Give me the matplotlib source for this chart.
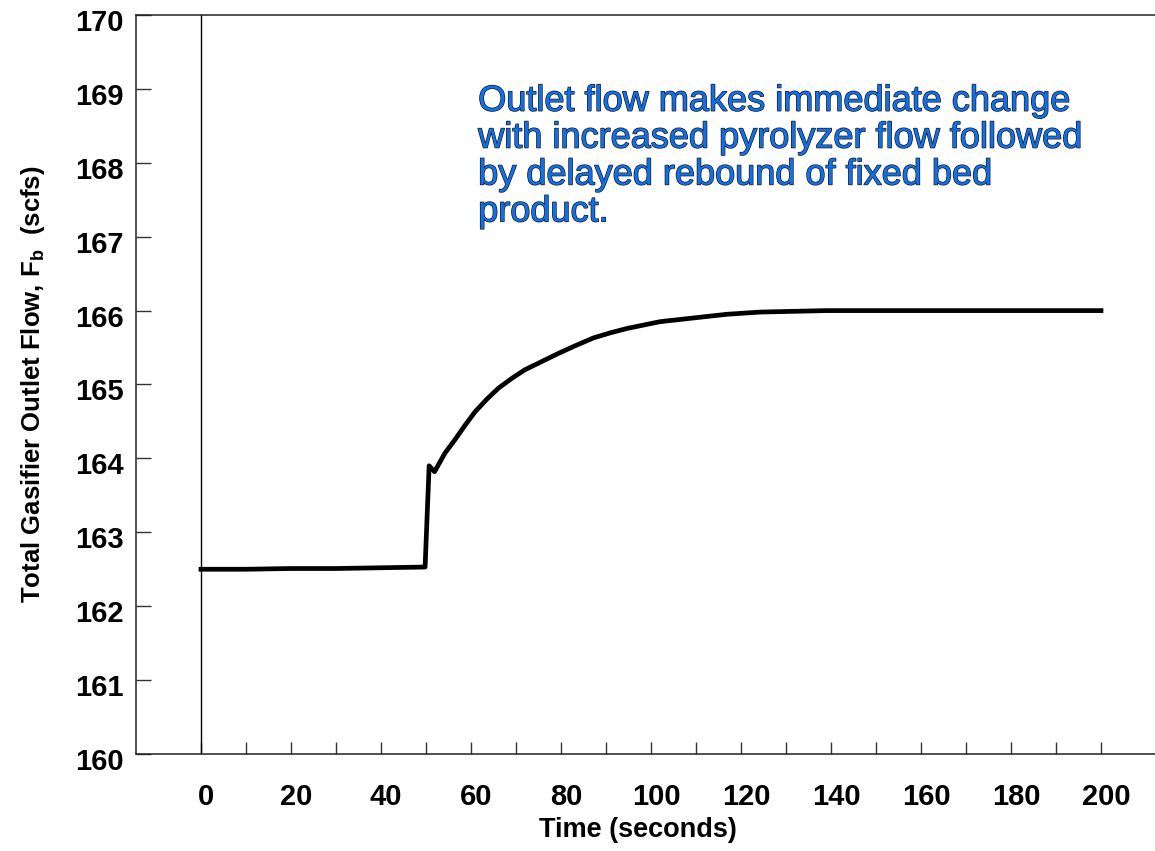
import matplotlib.pyplot as plt
import matplotlib.patheffects as pe
import matplotlib.transforms as mtransforms

plt.rcParams["font.family"] = ["Liberation Sans", "DejaVu Sans"]

# curve
time_s = [0, 10, 20, 30, 40, 49.8, 50.7, 51.9, 54.2, 56.4, 58.7, 60.9, 63.5,
          66.1, 69.0, 72.0, 75.7, 79.4, 83.0, 87.2, 91.0, 94.8, 102.0, 109.4,
          116.8, 124.2, 131.6, 139.0, 150, 175, 200]
flow = [162.50, 162.50, 162.51, 162.51, 162.52, 162.53, 163.90, 163.82, 164.07,
        164.25, 164.45, 164.63, 164.80, 164.95, 165.08, 165.20, 165.31, 165.42,
        165.52, 165.63, 165.70, 165.76, 165.85, 165.90, 165.95, 165.98, 165.99,
        166.00, 166.00, 166.00, 166.00]

x_major = list(range(0, 201, 20))
x_minor = list(range(10, 200, 20))
y_ticks = list(range(160, 171))

note = ("Outlet flow makes immediate change\n"
        "with increased pyrolyzer flow followed\n"
        "by delayed rebound of fixed bed\n"
        "product.")

fig = plt.figure(figsize=(11.55, 8.51), dpi=100)
ax = fig.add_axes([136 / 1155, 1 - 754 / 851, 1 - 136 / 1155, (754 - 15) / 851])

ax.plot(time_s, flow, color="black", lw=3.4, solid_joinstyle="round")
ax.axvline(0, color="black", lw=1.0)

ax.set_xlim(-14.44, 212)
ax.set_ylim(160, 170)

ax.spines["right"].set_visible(False)
for s in ["left", "top", "bottom"]:
    ax.spines[s].set_linewidth(1.1)
    ax.spines[s].set_color("#222222")

ax.set_xticks(x_major)
ax.set_xticks(x_minor, minor=True)
ax.tick_params(axis="x", which="both", direction="in", length=8.6, width=1.0,
               color="#333333", labelsize=21, pad=21)

ax.set_yticks(y_ticks)
ax.tick_params(axis="y", direction="in", length=10.8, width=1.0,
               color="#333333", labelsize=21, pad=9)

# tick labels in the original sit a little right / below their ticks
shift_x = mtransforms.ScaledTranslation(5 / 100, 0, fig.dpi_scale_trans)
shift_y = mtransforms.ScaledTranslation(0, -5 / 100, fig.dpi_scale_trans)
for lab in ax.get_xticklabels():
    lab.set_fontweight("bold")
    lab.set_transform(lab.get_transform() + shift_x)
for lab in ax.get_yticklabels():
    lab.set_fontweight("bold")
    lab.set_transform(lab.get_transform() + shift_y)

ax.set_xlabel("Time (seconds)", fontsize=19.5, fontweight="bold", labelpad=7)
ax.xaxis.set_label_coords((638 - 136) / (1155 - 136), -0.085)
ax.set_ylabel(r"Total Gasifier Outlet Flow, $\mathregular{F_b}$  (scfs)",
              fontsize=18.5, fontweight="bold", labelpad=20)

ax.text(61.6, 169.07, note, fontsize=26, color="#1170e6", va="top", ha="left",
        linespacing=1.07,
        path_effects=[pe.withStroke(linewidth=1.0, foreground="#1a1a1a")])

fig.savefig("out.png", dpi=100)
